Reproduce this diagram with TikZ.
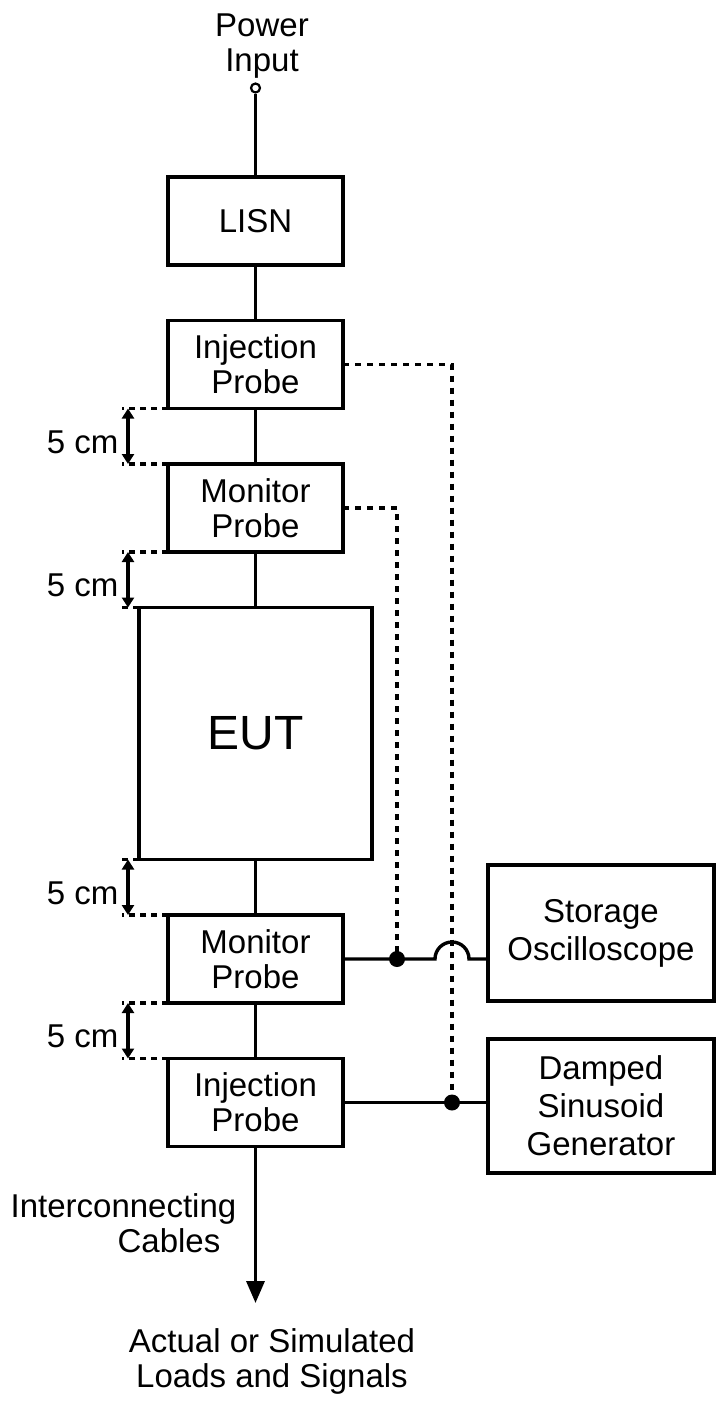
\documentclass[tikz,border=0pt]{standalone}
\usepackage{fontspec}
\setmainfont{Liberation Sans}
\usetikzlibrary{arrows.meta, positioning, calc}

\begin{document}
\begin{tikzpicture}[x=1pt, y=1pt, line width=3.4pt, node distance=55.5pt,
    font=\fontsize{33}{35}\selectfont,
    box/.style={draw, outer sep=0pt, inner sep=0pt, align=center, minimum width=175pt, minimum height=88pt},
    sidebox/.style={box, minimum width=226pt, font=\fontsize{33}{38}\selectfont},
    sigline/.style={dash pattern=on 6pt off 6pt},
    extline/.style={dash pattern=on 6pt off 5pt},
    dimarrow/.style={{Triangle[length=10pt,width=12pt]}-{Triangle[length=10pt,width=12pt]}},
    dot/.style={circle, fill, inner sep=0pt, minimum size=16pt},
    txt/.style={inner sep=0pt, align=center}]
    \useasboundingbox (0,0) rectangle (717,-1403);

    % chain of boxes
    \node[box] (lisn) at (255.5,-221) {LISN};
    \node[box, below=of lisn] (injU) {Injection\\Probe};
    \node[box, below=of injU] (monU) {Monitor\\Probe};
    \node[box, below=of monU, minimum width=233pt, minimum height=252pt, font=\fontsize{48}{50}\selectfont] (eut) {EUT};
    \node[box, below=of eut] (monL) {Monitor\\Probe};
    \node[box, below=of monL] (injL) {Injection\\Probe};

    \node[sidebox, minimum height=136pt] (scope) at (601,-933) {Storage\\Oscilloscope};
    \node[sidebox, minimum height=134pt] (gen) at (601,-1106) {Damped\\Sinusoid\\Generator};

    \node[txt] (power) at (262,-46) {Power\\Input};
    \node[circle, draw, line width=2.2pt, inner sep=0pt, minimum size=9pt] (pin) at (255.5,-88) {};
    \node[txt, anchor=east, align=right] (cables) at (238,-1223) {Interconnecting\\Cables\hspace*{16pt}};
    \node[txt] (loads) at (272,-1361) {Actual or Simulated\\Loads and Signals};
    \coordinate (cablend) at (255.5,-1303);

    \draw (pin) -- (lisn);
    \draw (lisn) -- (injU);
    \draw (injU) -- (monU);
    \draw (monU) -- (eut);
    \draw (eut) -- (monL);
    \draw (monL) -- (injL);
    \draw[-{Triangle[length=22pt,width=18pt]}] (injL) -- (cablend);

    % 5 cm spacings
    \coordinate (dimx) at (122,0);
    \coordinate (arrx) at (128,0);
    \foreach \a/\b in {injU/monU, monU/eut, eut/monL, monL/injL} {
        \draw[extline] (\a.south west) -- (\a.south west -| dimx);
        \draw[extline] (\b.north west) -- (\b.north west -| dimx);
        \draw[dimarrow] (\a.south west -| arrx) -- (\b.north west -| arrx);
        \node[txt, anchor=east, xshift=-2pt, yshift=-6pt] at ($(\a.south west -| dimx)!0.5!(\b.north west -| dimx)$) {5 cm};
    }

    % probe leads
    \coordinate (xmon) at (397,0);
    \coordinate (xinj) at (452,0);
    \node[dot] (jMon) at (monL.east -| xmon) {};
    \node[dot] (jInj) at (injL.east -| xinj) {};
    \draw[sigline] (injU.east) -| (jInj.center);
    \draw[sigline] (monU.east) -| (jMon.center);
    \draw (monL.east) -- ($(monL.east -| xinj)+(-17,0)$) arc[start angle=180, end angle=0, radius=17pt] -- (monL.east -| scope.west);
    \draw (injL.east) -- (injL.east -| gen.west);
\end{tikzpicture}
\end{document}
